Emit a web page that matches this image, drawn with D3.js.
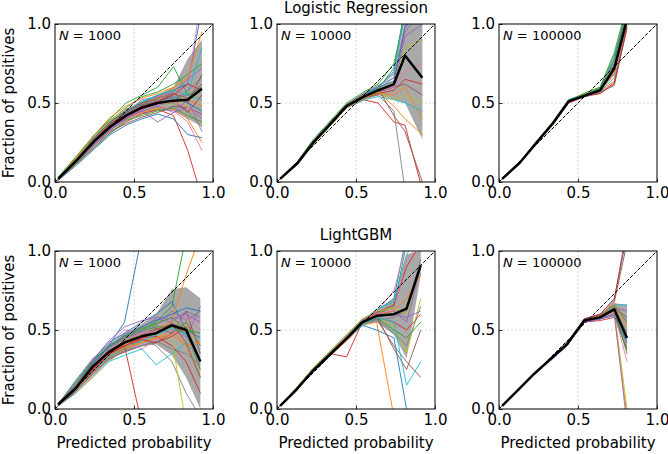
<!DOCTYPE html>
<html>
<head>
<meta charset="utf-8">
<script src="https://cdn.jsdelivr.net/npm/d3@7"></script>
<style>
  body { margin: 0; background: #fff; }
  svg { font-family: 'DejaVu Sans', sans-serif; }
</style>
</head>
<body>
<svg id="chart" width="668" height="454"></svg>
<script>
// bootstrapped calibration curves
const models = ['Logistic Regression', 'LightGBM'];
const sizes = [1000, 10000, 100000];

// Logistic Regression, N = 1000
const lr1000X = [0.02, 0.14, 0.25, 0.35, 0.45, 0.55, 0.65, 0.75, 0.84, 0.93];
const lr1000Mean = [0.02, 0.14, 0.26, 0.35, 0.42, 0.47, 0.50, 0.515, 0.52, 0.59];
const lr1000Lo = [0.015, 0.12, 0.23, 0.32, 0.39, 0.43, 0.45, 0.45, 0.40, 0.35];
const lr1000Hi = [0.025, 0.16, 0.29, 0.38, 0.45, 0.51, 0.55, 0.60, 0.78, 0.90];
const lr1000Runs = [
  [0.02, 0.15, 0.28, 0.38, 0.46, 0.50, 0.55, 0.58, 0.62, 1.10],
  [0.02, 0.13, 0.24, 0.33, 0.40, 0.44, 0.47, 0.46, 0.40, 0.25],
  [0.03, 0.16, 0.30, 0.40, 0.50, 0.55, 0.60, 0.73, 0.55, 0.60],
  [0.02, 0.12, 0.22, 0.31, 0.38, 0.43, 0.46, 0.42, 0.20, -0.10],
  [0.02, 0.15, 0.27, 0.37, 0.44, 0.52, 0.54, 0.57, 0.65, 0.72],
  [0.01, 0.12, 0.23, 0.32, 0.37, 0.41, 0.44, 0.48, 0.47, 0.43],
  [0.02, 0.14, 0.27, 0.36, 0.43, 0.47, 0.52, 0.55, 0.60, 1.20],
  [0.02, 0.13, 0.25, 0.34, 0.42, 0.48, 0.49, 0.50, 0.45, 0.35],
  [0.02, 0.16, 0.29, 0.39, 0.45, 0.50, 0.53, 0.49, 0.58, 0.50],
  [0.02, 0.14, 0.24, 0.33, 0.41, 0.45, 0.48, 0.53, 0.56, 0.85],
  [0.01, 0.11, 0.21, 0.30, 0.36, 0.40, 0.43, 0.40, 0.30, 0.28],
  [0.02, 0.15, 0.28, 0.37, 0.46, 0.49, 0.53, 0.60, 0.52, 0.48],
  [0.03, 0.17, 0.30, 0.39, 0.47, 0.54, 0.57, 0.62, 0.68, 0.75],
  [0.02, 0.14, 0.26, 0.35, 0.40, 0.46, 0.50, 0.52, 0.44, 0.55],
  [0.02, 0.13, 0.24, 0.34, 0.41, 0.45, 0.38, 0.44, 0.47, 0.40],
  [0.02, 0.15, 0.26, 0.36, 0.43, 0.48, 0.51, 0.56, 0.53, 0.62],
  [0.02, 0.12, 0.23, 0.33, 0.41, 0.46, 0.49, 0.45, 0.38, 0.20],
  [0.02, 0.14, 0.27, 0.37, 0.44, 0.50, 0.52, 0.50, 0.58, 0.66],
  [0.01, 0.13, 0.25, 0.35, 0.42, 0.47, 0.46, 0.52, 0.48, 0.35],
  [0.02, 0.15, 0.29, 0.38, 0.45, 0.51, 0.55, 0.58, 0.55, 0.52],
  [0.02, 0.13, 0.26, 0.36, 0.44, 0.49, 0.51, 0.54, 0.50, 0.45],
  [0.02, 0.16, 0.30, 0.41, 0.48, 0.53, 0.56, 0.60, 0.66, 0.95],
  [0.02, 0.12, 0.22, 0.31, 0.39, 0.42, 0.45, 0.47, 0.42, 0.38],
  [0.02, 0.14, 0.27, 0.37, 0.43, 0.48, 0.51, 0.55, 0.62, 0.58],
  [0.01, 0.13, 0.24, 0.33, 0.40, 0.45, 0.48, 0.44, 0.52, 0.32],
  [0.02, 0.15, 0.28, 0.38, 0.45, 0.50, 0.53, 0.56, 0.50, 0.68],
  [0.02, 0.14, 0.25, 0.35, 0.42, 0.46, 0.49, 0.51, 0.47, 0.42],
  [0.02, 0.13, 0.26, 0.36, 0.43, 0.47, 0.50, 0.53, 0.55, 0.60]
];

// Logistic Regression, N = 10000
const lr10kX = [0.02, 0.13, 0.23, 0.34, 0.44, 0.55, 0.64, 0.74, 0.81, 0.92];
const lr10kMean = [0.02, 0.12, 0.25, 0.37, 0.48, 0.54, 0.58, 0.62, 0.80, 0.66];
const lr10kLo = [0.015, 0.115, 0.24, 0.36, 0.47, 0.52, 0.55, 0.52, 0.50, 0.27];
const lr10kHi = [0.025, 0.125, 0.26, 0.38, 0.49, 0.56, 0.60, 0.64, 1.00, 1.00];
const lr10kRuns = [
  [0.02, 0.12, 0.26, 0.38, 0.49, 0.55, 0.60, 0.70, 1.10, 1.20],
  [0.02, 0.12, 0.24, 0.36, 0.47, 0.53, 0.56, 0.55, 0.60, 0.40],
  [0.02, 0.13, 0.27, 0.39, 0.50, 0.57, 0.62, 0.75, 1.05, 1.10],
  [0.02, 0.11, 0.24, 0.36, 0.47, 0.52, 0.50, 0.38, 0.36, -0.05],
  [0.02, 0.12, 0.25, 0.37, 0.48, 0.55, 0.59, 0.66, 0.95, 1.10],
  [0.02, 0.12, 0.25, 0.37, 0.48, 0.54, 0.57, 0.60, 0.62, 0.55],
  [0.02, 0.13, 0.26, 0.38, 0.49, 0.56, 0.61, 0.68, 1.05, 1.20],
  [0.02, 0.12, 0.24, 0.36, 0.47, 0.53, 0.55, 0.45, -0.05, -0.10],
  [0.02, 0.12, 0.25, 0.37, 0.48, 0.54, 0.58, 0.63, 0.85, 0.90],
  [0.02, 0.11, 0.24, 0.36, 0.47, 0.52, 0.54, 0.52, 0.50, 0.45],
  [0.02, 0.12, 0.26, 0.38, 0.49, 0.56, 0.60, 0.64, 0.98, 1.10],
  [0.02, 0.12, 0.25, 0.36, 0.47, 0.54, 0.57, 0.48, 0.40, 0.30],
  [0.02, 0.13, 0.26, 0.37, 0.48, 0.55, 0.59, 0.72, 1.10, 1.20],
  [0.02, 0.12, 0.25, 0.37, 0.48, 0.53, 0.56, 0.58, 0.65, 0.62],
  [0.02, 0.12, 0.24, 0.37, 0.47, 0.54, 0.58, 0.61, 0.92, 1.00],
  [0.02, 0.12, 0.25, 0.38, 0.49, 0.55, 0.59, 0.42, 0.32, 0.00],
  [0.02, 0.12, 0.25, 0.37, 0.48, 0.55, 0.58, 0.60, 0.70, 0.75],
  [0.02, 0.13, 0.26, 0.38, 0.49, 0.56, 0.61, 0.66, 1.00, 1.10],
  [0.02, 0.12, 0.24, 0.36, 0.47, 0.53, 0.57, 0.52, 0.55, 0.50],
  [0.02, 0.12, 0.25, 0.37, 0.48, 0.54, 0.60, 0.69, 1.08, 1.20]
];

// Logistic Regression, N = 100000
const lr100kX = [0.02, 0.13, 0.23, 0.34, 0.44, 0.54, 0.64, 0.73, 0.81];
const lr100kMean = [0.02, 0.12, 0.24, 0.37, 0.51, 0.545, 0.58, 0.72, 1.03];
const lr100kLo = [0.02, 0.118, 0.238, 0.365, 0.505, 0.54, 0.57, 0.68, 1.00];
const lr100kHi = [0.022, 0.122, 0.245, 0.375, 0.515, 0.55, 0.59, 0.76, 1.06];
const lr100kRuns = [
  [0.02, 0.12, 0.24, 0.37, 0.51, 0.55, 0.59, 0.75, 1.05],
  [0.02, 0.12, 0.24, 0.37, 0.50, 0.54, 0.57, 0.64, 1.00],
  [0.02, 0.12, 0.25, 0.38, 0.52, 0.56, 0.60, 0.80, 1.10],
  [0.02, 0.12, 0.24, 0.36, 0.50, 0.54, 0.56, 0.62, 0.97],
  [0.02, 0.12, 0.24, 0.37, 0.51, 0.55, 0.58, 0.72, 1.04],
  [0.02, 0.12, 0.24, 0.37, 0.51, 0.56, 0.59, 0.77, 1.08],
  [0.02, 0.12, 0.24, 0.37, 0.50, 0.54, 0.58, 0.70, 1.02],
  [0.02, 0.12, 0.24, 0.37, 0.51, 0.55, 0.57, 0.61, 0.99],
  [0.02, 0.12, 0.25, 0.37, 0.51, 0.56, 0.60, 0.74, 1.06],
  [0.02, 0.12, 0.24, 0.37, 0.51, 0.54, 0.57, 0.66, 1.01],
  [0.02, 0.12, 0.24, 0.37, 0.52, 0.55, 0.59, 0.78, 1.07],
  [0.02, 0.12, 0.24, 0.36, 0.50, 0.55, 0.58, 0.68, 1.03],
  [0.02, 0.12, 0.24, 0.37, 0.51, 0.56, 0.60, 0.82, 1.12],
  [0.02, 0.12, 0.24, 0.37, 0.50, 0.55, 0.56, 0.63, 0.98]
];

// LightGBM, N = 1000
const gb1000X = [0.02, 0.13, 0.24, 0.34, 0.44, 0.55, 0.64, 0.74, 0.83, 0.92];
const gb1000Mean = [0.03, 0.13, 0.27, 0.36, 0.42, 0.46, 0.48, 0.53, 0.50, 0.30];
const gb1000Lo = [0.025, 0.11, 0.23, 0.31, 0.36, 0.40, 0.41, 0.34, 0.20, 0.00];
const gb1000Hi = [0.035, 0.16, 0.31, 0.41, 0.48, 0.54, 0.60, 0.76, 0.77, 0.70];
const gb1000Runs = [
  [0.03, 0.14, 0.30, 0.40, 0.55, 1.10, 1.20, 1.20, 1.20, 1.20],
  [0.02, 0.10, 0.20, 0.30, 0.38, 0.42, 0.45, 0.50, 0.40, 0.20],
  [0.03, 0.18, 0.32, 0.38, 0.45, 0.50, 0.55, 0.65, 1.10, 1.20],
  [0.02, 0.12, 0.25, 0.35, 0.40, -0.10, -0.10, -0.10, -0.10, -0.10],
  [0.03, 0.15, 0.28, 0.39, 0.47, 0.52, 0.57, 0.55, 0.45, 0.65],
  [0.02, 0.11, 0.22, 0.32, 0.36, 0.40, 0.42, 0.48, 0.62, 0.35],
  [0.03, 0.16, 0.32, 0.41, 0.50, 0.48, 0.52, 0.60, 0.58, 0.55],
  [0.02, 0.12, 0.24, 0.33, 0.38, 0.44, 0.40, 0.30, 0.10, -0.05],
  [0.03, 0.14, 0.27, 0.37, 0.43, 0.47, 0.49, 0.55, 0.53, 0.40],
  [0.02, 0.10, 0.21, 0.30, 0.34, 0.38, 0.28, 0.35, 0.42, 0.33],
  [0.03, 0.17, 0.31, 0.42, 0.48, 0.55, 0.60, 0.68, 0.50, 0.45],
  [0.02, 0.13, 0.26, 0.35, 0.41, 0.44, 0.50, 0.56, 0.85, 1.10],
  [0.03, 0.15, 0.29, 0.38, 0.44, 0.49, 0.52, 0.52, 0.48, 0.25],
  [0.02, 0.11, 0.23, 0.34, 0.40, 0.45, 0.46, 0.40, 0.30, 0.10],
  [0.03, 0.14, 0.28, 0.36, 0.45, 0.49, 0.47, 0.55, 0.62, 0.58],
  [0.02, 0.12, 0.25, 0.35, 0.43, 0.47, 0.51, 0.48, 0.55, 0.40],
  [0.03, 0.16, 0.30, 0.38, 0.42, 0.38, 0.44, 0.50, 0.45, 0.30],
  [0.02, 0.13, 0.26, 0.37, 0.46, 0.50, 0.53, 0.62, 0.56, 0.62],
  [0.03, 0.15, 0.27, 0.36, 0.41, 0.46, 0.48, 0.44, -0.10, -0.10],
  [0.02, 0.12, 0.24, 0.33, 0.39, 0.43, 0.47, 0.51, 0.47, 0.38],
  [0.02, 0.14, 0.29, 0.39, 0.46, 0.52, 0.56, 0.60, 0.64, 0.62],
  [0.03, 0.12, 0.24, 0.34, 0.39, 0.42, 0.45, 0.47, 0.40, 0.42],
  [0.02, 0.15, 0.30, 0.40, 0.46, 0.51, 0.54, 0.58, 0.50, 0.48],
  [0.03, 0.13, 0.25, 0.35, 0.40, 0.44, 0.42, 0.46, 0.52, 0.30],
  [0.02, 0.16, 0.31, 0.43, 0.52, 0.56, 0.58, 0.57, 0.60, 0.55],
  [0.03, 0.12, 0.26, 0.36, 0.42, 0.46, 0.50, 0.54, 0.42, 0.20],
  [0.02, 0.14, 0.28, 0.38, 0.44, 0.48, 0.49, 0.53, 0.58, 0.50],
  [0.03, 0.11, 0.22, 0.31, 0.37, 0.40, 0.43, 0.38, 0.35, 0.28]
];

// LightGBM, N = 10000
const gb10kX = [0.02, 0.12, 0.23, 0.34, 0.44, 0.54, 0.63, 0.74, 0.82, 0.91];
const gb10kMean = [0.02, 0.12, 0.245, 0.35, 0.445, 0.55, 0.59, 0.60, 0.635, 0.91];
const gb10kLo = [0.015, 0.115, 0.235, 0.34, 0.43, 0.53, 0.55, 0.47, 0.32, 0.85];
const gb10kHi = [0.025, 0.125, 0.255, 0.36, 0.46, 0.57, 0.62, 0.70, 0.98, 1.00];
const gb10kRuns = [
  [0.02, 0.12, 0.25, 0.36, 0.46, 0.56, 0.62, 0.70, 1.10, 1.20],
  [0.02, 0.12, 0.24, 0.34, 0.43, 0.53, 0.55, -0.05, -0.10, -0.10],
  [0.02, 0.13, 0.26, 0.37, 0.47, 0.57, 0.60, 0.65, 1.05, 1.20],
  [0.02, 0.12, 0.24, 0.35, 0.33, 0.55, 0.58, 0.55, 0.50, 0.60],
  [0.02, 0.12, 0.25, 0.35, 0.45, 0.56, 0.60, 0.62, 0.55, 0.90],
  [0.02, 0.11, 0.24, 0.34, 0.44, 0.54, 0.57, 0.40, 0.30, 0.20],
  [0.02, 0.12, 0.25, 0.36, 0.45, 0.55, 0.61, 0.75, 1.05, 1.10],
  [0.02, 0.12, 0.24, 0.35, 0.44, 0.54, 0.56, 0.58, 0.62, 0.95],
  [0.02, 0.12, 0.25, 0.35, 0.45, 0.55, 0.59, 0.52, 0.35, 0.70],
  [0.02, 0.13, 0.26, 0.36, 0.46, 0.56, 0.63, 0.68, 0.98, 1.10],
  [0.02, 0.12, 0.24, 0.34, 0.44, 0.53, 0.50, 0.45, 0.00, -0.10],
  [0.02, 0.12, 0.25, 0.36, 0.45, 0.55, 0.60, 0.62, 0.70, 0.85],
  [0.02, 0.12, 0.24, 0.35, 0.44, 0.54, 0.58, 0.50, 0.45, 0.55],
  [0.02, 0.13, 0.25, 0.36, 0.46, 0.56, 0.61, 0.66, 0.90, 1.05],
  [0.02, 0.12, 0.24, 0.35, 0.45, 0.55, 0.58, 0.60, 0.58, 0.62],
  [0.02, 0.12, 0.25, 0.35, 0.44, 0.54, 0.59, 0.38, 0.25, 0.50],
  [0.02, 0.12, 0.25, 0.36, 0.46, 0.56, 0.60, 0.63, 0.95, 1.05],
  [0.02, 0.12, 0.24, 0.35, 0.45, 0.54, 0.57, 0.48, 0.40, 0.65],
  [0.02, 0.13, 0.26, 0.37, 0.47, 0.57, 0.62, 0.64, 0.60, 0.92],
  [0.02, 0.12, 0.24, 0.34, 0.44, 0.53, 0.58, 0.55, 0.15, 0.30]
];

// LightGBM, N = 100000
const gb100kX = [0.02, 0.12, 0.22, 0.33, 0.43, 0.54, 0.64, 0.73, 0.81];
const gb100kMean = [0.02, 0.12, 0.22, 0.32, 0.41, 0.56, 0.58, 0.63, 0.45];
const gb100kLo = [0.02, 0.118, 0.218, 0.315, 0.405, 0.55, 0.57, 0.59, 0.36];
const gb100kHi = [0.022, 0.122, 0.222, 0.325, 0.415, 0.57, 0.60, 0.67, 0.66];
const gb100kRuns = [
  [0.02, 0.12, 0.22, 0.32, 0.41, 0.57, 0.60, 0.70, 1.10],
  [0.02, 0.12, 0.22, 0.32, 0.40, 0.55, 0.57, 0.60, -0.05],
  [0.02, 0.12, 0.22, 0.32, 0.42, 0.57, 0.59, 0.66, 0.55],
  [0.02, 0.12, 0.22, 0.31, 0.40, 0.55, 0.56, 0.58, 0.38],
  [0.02, 0.12, 0.22, 0.32, 0.41, 0.56, 0.58, 0.64, 0.62],
  [0.02, 0.12, 0.22, 0.32, 0.41, 0.56, 0.59, 0.68, 1.05],
  [0.02, 0.12, 0.22, 0.31, 0.40, 0.55, 0.57, 0.61, 0.30],
  [0.02, 0.12, 0.22, 0.32, 0.42, 0.57, 0.60, 0.65, 0.48],
  [0.02, 0.12, 0.22, 0.32, 0.41, 0.56, 0.58, 0.62, 0.00],
  [0.02, 0.12, 0.22, 0.32, 0.41, 0.56, 0.58, 0.66, 0.66],
  [0.02, 0.12, 0.22, 0.31, 0.40, 0.55, 0.57, 0.59, 0.42],
  [0.02, 0.12, 0.22, 0.32, 0.41, 0.56, 0.59, 0.67, 0.52],
  [0.02, 0.12, 0.22, 0.32, 0.41, 0.56, 0.58, 0.63, 0.35],
  [0.02, 0.12, 0.22, 0.32, 0.41, 0.57, 0.60, 0.69, 1.15],
  [0.02, 0.12, 0.22, 0.31, 0.40, 0.55, 0.57, 0.60, -0.10],
  [0.02, 0.12, 0.22, 0.32, 0.41, 0.56, 0.59, 0.64, 0.58]
];

const panels = [
  { row: 0, col: 0, x: lr1000X, mean: lr1000Mean, lo: lr1000Lo, hi: lr1000Hi, runs: lr1000Runs },
  { row: 0, col: 1, x: lr10kX, mean: lr10kMean, lo: lr10kLo, hi: lr10kHi, runs: lr10kRuns },
  { row: 0, col: 2, x: lr100kX, mean: lr100kMean, lo: lr100kLo, hi: lr100kHi, runs: lr100kRuns },
  { row: 1, col: 0, x: gb1000X, mean: gb1000Mean, lo: gb1000Lo, hi: gb1000Hi, runs: gb1000Runs },
  { row: 1, col: 1, x: gb10kX, mean: gb10kMean, lo: gb10kLo, hi: gb10kHi, runs: gb10kRuns },
  { row: 1, col: 2, x: gb100kX, mean: gb100kMean, lo: gb100kLo, hi: gb100kHi, runs: gb100kRuns }
];

const PANEL_SIZE = 158;
const PANEL_LEFT = [55, 277, 499];
const PANEL_TOP = [24, 251];
const TICKS = [0, 0.5, 1];
const FONT_SIZE = 15;

const svg = d3.select('#chart');
const x = d3.scaleLinear().domain([0, 1]).range([0, PANEL_SIZE]);
const y = d3.scaleLinear().domain([0, 1]).range([PANEL_SIZE, 0]);
const color = d3.scaleOrdinal(d3.schemeCategory10);

panels.forEach((p, i) => drawPanel(p, i));

// model titles over the middle column
models.forEach((name, row) => {
  svg.append('text')
    .attr('x', PANEL_LEFT[1] + PANEL_SIZE / 2)
    .attr('y', PANEL_TOP[row] - 11)
    .attr('text-anchor', 'middle')
    .attr('font-size', FONT_SIZE)
    .text(name);
});

function drawPanel(p, i) {
  const g = svg.append('g')
    .attr('transform', `translate(${PANEL_LEFT[p.col]},${PANEL_TOP[p.row]})`);

  g.append('clipPath')
    .attr('id', `clip-${i}`)
    .append('rect')
    .attr('width', PANEL_SIZE)
    .attr('height', PANEL_SIZE);

  const plot = g.append('g').attr('clip-path', `url(#clip-${i})`);

  // grid at 0.5
  plot.append('line')
    .attr('x1', x(0.5)).attr('x2', x(0.5))
    .attr('y1', 0).attr('y2', PANEL_SIZE)
    .attr('stroke', '#c8c8c8').attr('stroke-width', 0.8)
    .attr('stroke-dasharray', '2,2');
  plot.append('line')
    .attr('x1', 0).attr('x2', PANEL_SIZE)
    .attr('y1', y(0.5)).attr('y2', y(0.5))
    .attr('stroke', '#c8c8c8').attr('stroke-width', 0.8)
    .attr('stroke-dasharray', '2,2');

  const area = d3.area()
    .x((d, k) => x(p.x[k]))
    .y0((d, k) => y(p.lo[k]))
    .y1((d, k) => y(p.hi[k]));

  plot.append('path')
    .datum(p.x)
    .attr('d', area)
    .attr('fill', '#a9a9a9');

  const line = d3.line()
    .x((d, k) => x(p.x[k]))
    .y(d => y(d));

  plot.selectAll('.run')
    .data(p.runs)
    .enter()
    .append('path')
    .attr('class', 'run')
    .attr('d', line)
    .attr('fill', 'none')
    .attr('stroke', (d, k) => color(k % 10))
    .attr('stroke-width', 0.9);

  plot.append('line')
    .attr('x1', x(0)).attr('y1', y(0))
    .attr('x2', x(1)).attr('y2', y(1))
    .attr('stroke', '#000').attr('stroke-width', 1)
    .attr('stroke-dasharray', '3.7,1.6');

  plot.append('path')
    .datum(p.mean)
    .attr('d', line)
    .attr('fill', 'none')
    .attr('stroke', '#000')
    .attr('stroke-width', 2.5)
    .attr('stroke-linejoin', 'round');

  // axes, ticks pointing inward
  g.append('g')
    .attr('transform', `translate(0,${PANEL_SIZE})`)
    .call(d3.axisBottom(x).tickValues(TICKS).tickFormat(d3.format('.1f'))
      .tickSizeInner(-3.5).tickSizeOuter(0).tickPadding(5))
    .call(axisStyle);

  g.append('g')
    .call(d3.axisLeft(y).tickValues(TICKS).tickFormat(d3.format('.1f'))
      .tickSizeInner(-3.5).tickSizeOuter(0).tickPadding(4))
    .call(axisStyle);

  g.append('rect')
    .attr('width', PANEL_SIZE)
    .attr('height', PANEL_SIZE)
    .attr('fill', 'none')
    .attr('stroke', '#000')
    .attr('stroke-width', 1);

  const label = g.append('text')
    .attr('x', 4)
    .attr('y', 16)
    .attr('font-size', 13);
  label.append('tspan').attr('font-style', 'italic').text('N');
  label.append('tspan').text(` = ${sizes[p.col]}`);

  if (p.col === 0) {
    g.append('text')
      .attr('transform', `translate(-41,${PANEL_SIZE / 2}) rotate(-90)`)
      .attr('text-anchor', 'middle')
      .attr('font-size', FONT_SIZE)
      .text('Fraction of positives');
  }

  if (p.row === 1) {
    g.append('text')
      .attr('x', PANEL_SIZE / 2)
      .attr('y', PANEL_SIZE + 39)
      .attr('text-anchor', 'middle')
      .attr('font-size', FONT_SIZE)
      .text('Predicted probability');
  }
}

function axisStyle(sel) {
  sel.select('.domain').remove();
  sel.selectAll('.tick line').attr('stroke', '#000').attr('stroke-width', 0.8);
  sel.selectAll('.tick text')
    .attr('fill', '#000')
    .attr('font-size', FONT_SIZE)
    .attr('font-family', 'DejaVu Sans, sans-serif');
}
</script>
</body>
</html>
